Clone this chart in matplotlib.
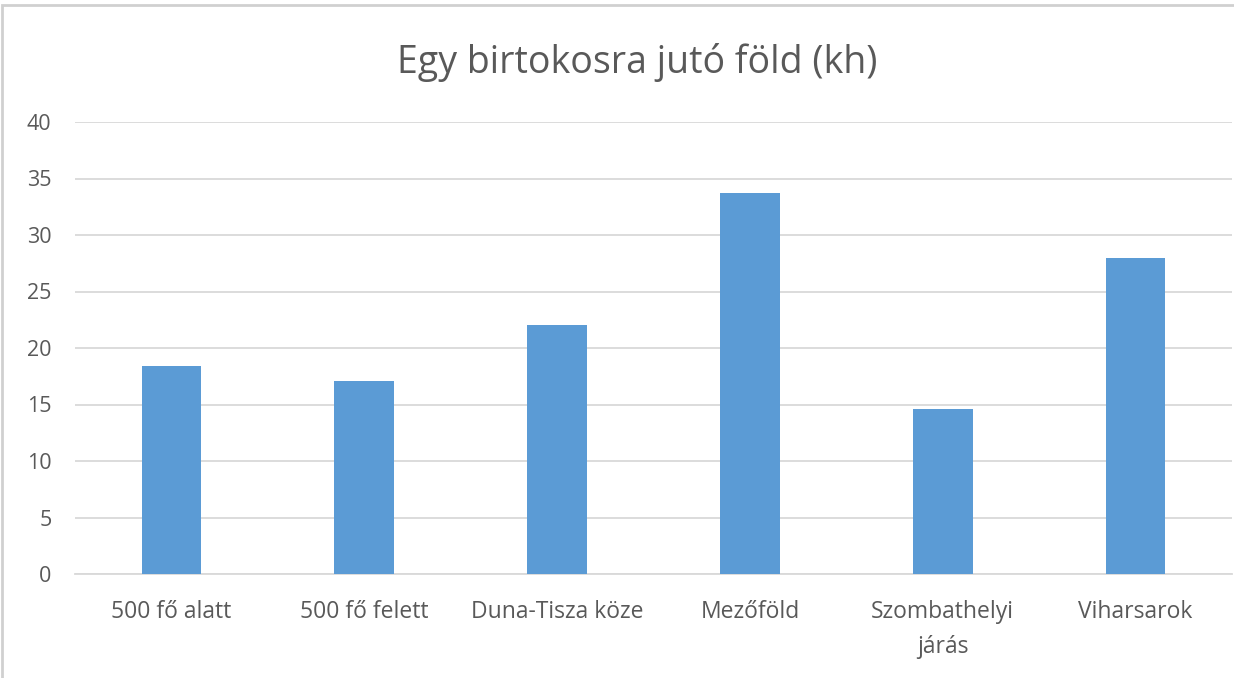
import matplotlib
matplotlib.use("Agg")
import matplotlib.pyplot as plt
from matplotlib.patches import Rectangle

categories = ["500 fő alatt", "500 fő felett", "Duna-Tisza köze", "Mezőföld",
              "Szombathelyi\njárás", "Viharsarok"]
values = [18.4, 17.1, 22.0, 33.75, 14.6, 28.0]
yticks = [0, 5, 10, 15, 20, 25, 30, 35, 40]

plt.rcParams["font.family"] = ["Open Sans", "DejaVu Sans"]
text_color = "#595959"
grid_color = "#D9D9D9"

fig = plt.figure(figsize=(12.34, 6.78), dpi=100)
ax = fig.add_axes([75 / 1234, 1 - 574 / 678, (1232 - 75) / 1234, (574 - 122) / 678])

x = list(range(len(categories)))
ax.bar(x, values, width=0.31, color="#5B9BD5", zorder=3)

ax.set_xlim(-0.5, len(categories) - 0.5)
ax.set_ylim(0, 40)
ax.set_yticks(yticks)
ax.set_yticklabels([str(v) for v in yticks], fontsize=15.5, color=text_color)
ax.set_xticks(x)
ax.set_xticklabels(categories, fontsize=16.5, color=text_color, linespacing=1.6)
ax.tick_params(axis="both", length=0)
ax.tick_params(axis="y", pad=17)
ax.tick_params(axis="x", pad=19)

ax.grid(axis="y", color=grid_color, linewidth=1.3, zorder=0)
for side in ["top", "right", "left"]:
    ax.spines[side].set_visible(False)
ax.spines["bottom"].set_color(grid_color)
ax.spines["bottom"].set_linewidth(1.3)

fig.text(0.516, 1 - 62 / 678, "Egy birtokosra jutó föld (kh)", ha="center", va="center",
         fontsize=27, color=text_color)

# light frame at the top and left edge
fig.patches.append(Rectangle((2 / 1234, -0.01), 1.1, 1 - 5 / 678 + 0.01, transform=fig.transFigure,
                             fill=False, edgecolor="#D0D0D0", linewidth=2))

fig.savefig("out.png", dpi=100)
